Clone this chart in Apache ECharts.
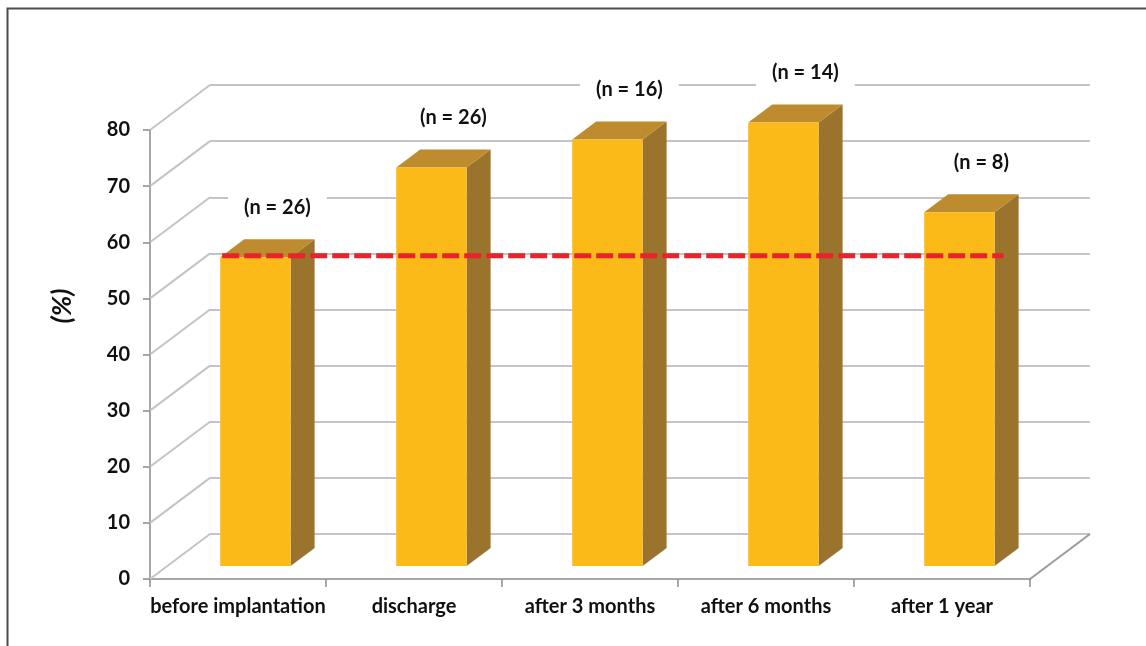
<!DOCTYPE html>
<html>
<head>
<meta charset="utf-8">
<title>Percentage by follow-up time point</title>
<script src="https://cdn.jsdelivr.net/npm/echarts@6/dist/echarts.min.js"></script>
<style>
  html, body { margin: 0; padding: 0; background: #ffffff; }
  #chart { width: 1146px; height: 646px; }
</style>
</head>
<body>
<div id="chart"></div>
<script>
// Time points along the x axis
const categories = ['before implantation', 'discharge', 'after 3 months', 'after 6 months', 'after 1 year'];
// Percentage at each time point
const percentValues = [55, 71, 76, 79, 63];
// Number of patients at each time point
const sampleSizes = [26, 26, 16, 14, 8];
// Baseline level drawn as a dashed reference line
const referenceLevel = 55;
// Value axis ticks
const yTicks = [0, 10, 20, 30, 40, 50, 60, 70, 80];

// Oblique depth of the pseudo-3D box (pixels from front plane to back wall)
const DX = 60, DY = -45;
// Bar placement inside the depth (fractions of the full depth)
const FRONT = 0.29, BACK = 0.69;
const BAR_RATIO = 0.4;
const FONT = 'Lato, "Open Sans", "DejaVu Sans", sans-serif';

const chart = echarts.init(document.getElementById('chart'), null, { renderer: 'canvas' });

function barGeom(api, idx, v) {
  const base = api.coord([idx, 0]);
  const top = api.coord([idx, v]);
  const bandW = api.size([1, 0])[0];
  const w = bandW * BAR_RATIO;
  const fx = FRONT * DX, fy = FRONT * DY;
  const bx = BACK * DX, by = BACK * DY;
  return {
    l: base[0] - w / 2 + fx, r: base[0] + w / 2 + fx,
    yb: base[1] + fy, yt: top[1] + fy,
    sx: bx - fx, sy: by - fy,
    cx: base[0], topY: top[1]
  };
}

const option = {
  animation: false,
  backgroundColor: '#ffffff',
  grid: [
    { left: 150, right: 116, top: 130, bottom: 67 },
    { left: 150 + DX, right: 116 - DX, top: 130 + DY, bottom: 67 - DY }
  ],
  xAxis: [
    {
      type: 'category', gridIndex: 0, data: categories,
      axisLine: { show: true, lineStyle: { color: '#8a8a8a', width: 1.5 } },
      axisTick: { show: true, interval: 0, length: 8, lineStyle: { color: '#8a8a8a', width: 1.5 } },
      axisLabel: { interval: 0, margin: 18, color: '#111', fontFamily: FONT, fontWeight: 'bold', fontSize: 20 },
      splitLine: { show: false }
    },
    {
      type: 'category', gridIndex: 1, data: categories,
      axisLine: { show: false }, axisTick: { show: false }, axisLabel: { show: false },
      splitLine: { show: false }
    }
  ],
  yAxis: [
    {
      type: 'value', gridIndex: 0, min: 0, max: 80, interval: 10,
      axisLine: { show: true, lineStyle: { color: '#8a8a8a', width: 1.5 } },
      axisTick: { show: true, length: 7, lineStyle: { color: '#8a8a8a', width: 1.5 } },
      axisLabel: { margin: 20, color: '#111', fontFamily: FONT, fontWeight: 'bold', fontSize: 20 },
      splitLine: { show: false }
    },
    {
      type: 'value', gridIndex: 1, min: 0, max: 80, interval: 10,
      axisLine: { show: false }, axisTick: { show: false }, axisLabel: { show: false },
      splitLine: { show: true, lineStyle: { color: '#c4c4c4', width: 2 } }
    }
  ],
  graphic: [
    {
      type: 'polyline', z: 0,
      shape: { points: [[7.5, 646], [7.5, 8.5], [1146, 8.5]] },
      style: { stroke: '#4d4d4d', lineWidth: 2, fill: null }
    },
    {
      type: 'text', x: 62, y: 306, rotation: Math.PI / 2,
      style: {
        text: '(%)', align: 'center', verticalAlign: 'middle',
        font: 'italic bold 27px ' + FONT, fill: '#111'
      }
    }
  ],
  series: [
    {
      // Side-wall and floor edges connecting the front axis to the back wall
      type: 'custom', xAxisIndex: 0, yAxisIndex: 0, z: 1, silent: true,
      data: yTicks.map(v => [0, v]),
      renderItem: function (params, api) {
        const cs = params.coordSys;
        const y = api.coord([0, api.value(1)])[1];
        const children = [{
          type: 'line',
          shape: { x1: cs.x, y1: y, x2: cs.x + DX, y2: y + DY },
          style: { stroke: '#c4c4c4', lineWidth: 2 }
        }];
        if (api.value(1) === 0) {
          children.push({
            type: 'line',
            shape: { x1: cs.x + cs.width, y1: y, x2: cs.x + cs.width + DX, y2: y + DY },
            style: { stroke: '#9a9a9a', lineWidth: 2 }
          });
        }
        return { type: 'group', children: children };
      }
    },
    {
      // Pseudo-3D bars with sample size labels
      type: 'custom', xAxisIndex: 0, yAxisIndex: 0, z: 3, silent: true,
      data: percentValues.map((v, i) => [i, v]),
      renderItem: function (params, api) {
        const g = barGeom(api, api.value(0), api.value(1));
        const n = sampleSizes[params.dataIndex];
        const labelX = g.cx + BACK * DX - 2;
        const labelY = g.topY + BACK * DY - 32;
        return {
          type: 'group',
          children: [
            {
              type: 'polygon',
              shape: { points: [[g.r, g.yb], [g.r + g.sx, g.yb + g.sy], [g.r + g.sx, g.yt + g.sy], [g.r, g.yt]] },
              style: { fill: '#9a732c' }
            },
            {
              type: 'polygon',
              shape: { points: [[g.l, g.yt], [g.r, g.yt], [g.r + g.sx, g.yt + g.sy], [g.l + g.sx, g.yt + g.sy]] },
              style: { fill: '#be8b2f' }
            },
            {
              type: 'rect',
              shape: { x: g.l, y: g.yt, width: g.r - g.l, height: g.yb - g.yt },
              style: { fill: '#fbba17' }
            },
            {
              type: 'text',
              style: {
                text: '(n = ' + n + ')', x: labelX, y: labelY,
                align: 'center', verticalAlign: 'middle',
                font: 'bold 20px ' + FONT, fill: '#111',
                backgroundColor: '#ffffff', padding: [5, 16]
              }
            }
          ]
        };
      }
    },
    {
      // Dashed baseline reference across the bars
      type: 'custom', xAxisIndex: 0, yAxisIndex: 0, z: 5, silent: true,
      data: [[0, referenceLevel]],
      renderItem: function (params, api) {
        const first = barGeom(api, 0, api.value(1));
        const last = barGeom(api, categories.length - 1, api.value(1));
        return {
          type: 'line',
          shape: { x1: first.l + 2, y1: first.yt - 1.5, x2: last.r + 9, y2: last.yt - 1.5 },
          style: { stroke: '#e8232a', lineWidth: 5, lineDash: [17, 5] }
        };
      }
    }
  ]
};

chart.setOption(option);
</script>
</body>
</html>
